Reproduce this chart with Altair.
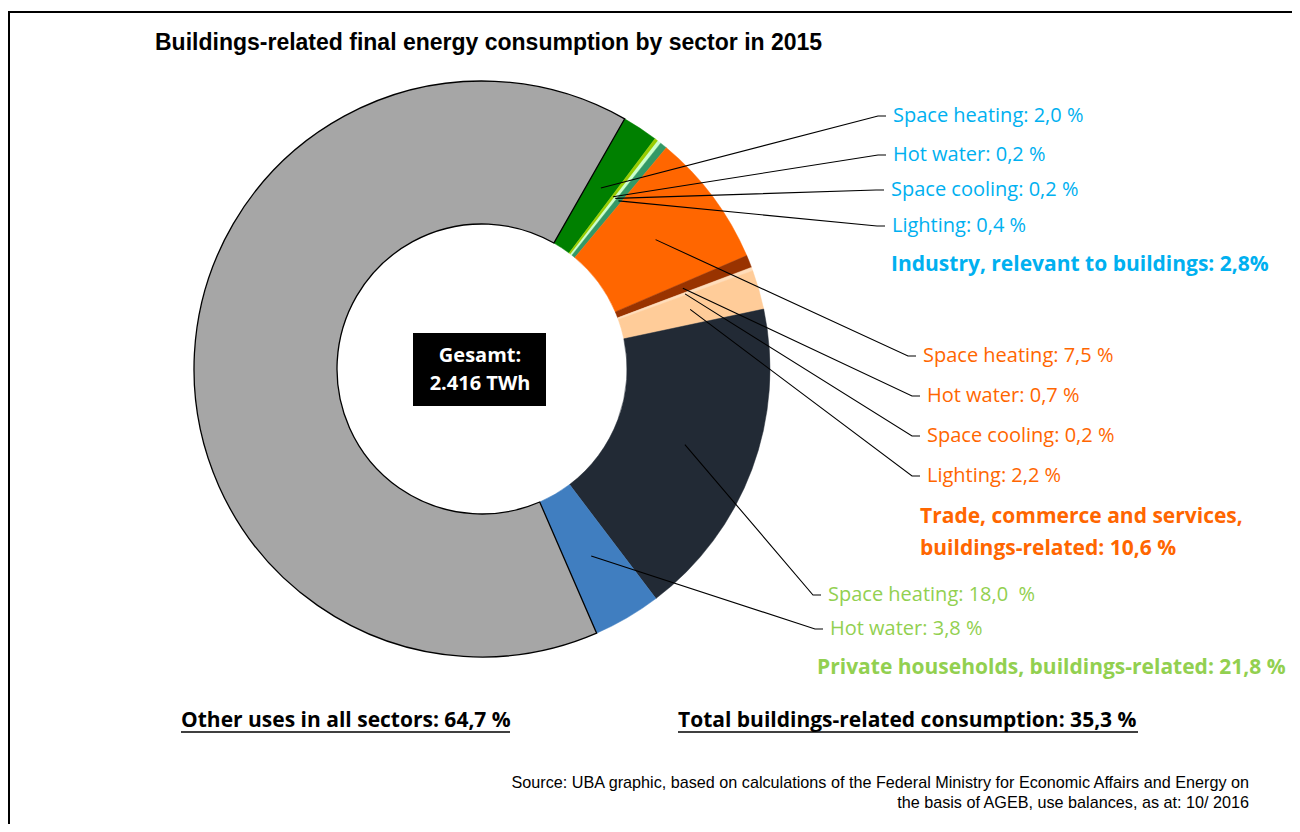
import math
import altair as alt
import pandas as pd

# ---------------- data ----------------
sectors = ["Industry"] * 4 + ["Trade"] * 4 + ["Households"] * 2 + ["Other"]
uses = ["Space heating", "Hot water", "Space cooling", "Lighting",
        "Space heating", "Hot water", "Space cooling", "Lighting",
        "Space heating", "Hot water", "Other uses"]
shares = [2.0, 0.2, 0.2, 0.4, 7.5, 0.7, 0.2, 2.2, 18.0, 3.8, 64.7]
slice_colors = ["#008000", "#99CC00", "#CCFFCC", "#339966",
                "#FF6600", "#993300", "#FFDDBB", "#FFCC99",
                "#222A35", "#407EC0", "#A6A6A6"]
use_labels = ["Space heating: 2,0 %", "Hot water: 0,2 %", "Space cooling: 0,2 %", "Lighting: 0,4 %",
              "Space heating: 7,5 %", "Hot water: 0,7 %", "Space cooling: 0,2 %", "Lighting: 2,2 %",
              "Space heating: 18,0\u00a0 %", "Hot water: 3,8 %"]
sector_colors = {"Industry": "#00B0F0", "Trade": "#FF6600", "Households": "#92D050"}
sector_labels = ["Industry, relevant to buildings: 2,8%", "Trade, commerce and services,",
                 "buildings-related: 10,6 %", "Private households, buildings-related: 21,8 %"]
sector_label_sector = ["Industry", "Trade", "Trade", "Households"]
total_labels = ["Other uses in all sectors: 64,7 %", "Total buildings-related consumption: 35,3 %"]
title_text = "Buildings-related final energy consumption by sector in 2015"
center_lines = ["Gesamt:", "2.416 TWh"]
source_lines = ["Source: UBA graphic, based on calculations of the Federal Ministry for Economic Affairs and Energy on",
                "the basis of AGEB, use balances, as at: 10/ 2016"]

# ---------------- layout (page pixels) ----------------
W, H = 1284, 816
CX, CY = 482, 369
R_OUT, R_IN = 288, 145
START_DEG = 29.7
label_x = [893, 893, 891, 892, 923, 927, 927, 927, 828, 830]
label_y = [116, 155, 190, 226, 356, 396, 436, 476, 595, 629]
sector_x = [891, 920, 920, 817]
sector_y = [265, 517, 549, 668]
total_x = [181, 678]
total_w = [329, 460]
total_y = 721
FONT = "Open Sans"

xs = alt.Scale(domain=[8, 8 + W], range=[0, W])
ys = alt.Scale(domain=[8, 8 + H], range=[0, H])
X = lambda f="x": alt.X(f"{f}:Q", scale=xs, axis=None)
Y = lambda f="y": alt.Y(f"{f}:Q", scale=ys, axis=None)

total = sum(shares)
a0 = math.radians(START_DEG)

pie = pd.DataFrame({
    "idx": list(range(len(shares))),
    "sector": sectors,
    "use": uses,
    "share": shares,
    "col": slice_colors,
    "stroke_col": ["#000000" if s == "Other" else c for s, c in zip(sectors, slice_colors)],
    "sw": [1.3 if s == "Other" else 0.5 for s in sectors],
})

arcs = alt.Chart(pie).mark_arc(radius=R_OUT, radius2=R_IN).encode(
    theta=alt.Theta("share:Q", stack=True,
                    scale=alt.Scale(domain=[0, total], range=[a0, a0 + 2 * math.pi])),
    color=alt.Color("col:N", scale=None),
    stroke=alt.Stroke("stroke_col:N", scale=None),
    strokeWidth=alt.StrokeWidth("sw:Q", scale=None),
    order=alt.Order("idx:Q"),
    x=alt.value(CX - 8),
    y=alt.value(CY - 8),
)

# leader lines from slice centroid to label
rm = (R_OUT + R_IN) / 2
rows = []
cum = 0.0
for i, v in enumerate(shares[:-1]):
    ang = a0 + (cum + v / 2) / total * 2 * math.pi
    cum += v
    sx, sy = CX + rm * math.sin(ang), CY - rm * math.cos(ang)
    ex = label_x[i] - 7
    rows += [
        {"id": i, "o": 0, "x": sx, "y": sy},
        {"id": i, "o": 1, "x": ex - 8, "y": label_y[i]},
        {"id": i, "o": 2, "x": ex, "y": label_y[i]},
    ]
leaders = alt.Chart(pd.DataFrame(rows)).mark_line(color="black", strokeWidth=1.1).encode(
    x=X(), y=Y(), detail="id:N", order="o:Q")

lab_df = pd.DataFrame({
    "text": use_labels, "x": label_x, "y": label_y,
    "c": [sector_colors[s] for s in sectors[:-1]],
})
labels = alt.Chart(lab_df).mark_text(align="left", baseline="middle", font=FONT, fontSize=20).encode(
    x=X(), y=Y(), text="text:N", color=alt.Color("c:N", scale=None))

sec_df = pd.DataFrame({
    "text": sector_labels, "x": sector_x, "y": sector_y,
    "c": [sector_colors[s] for s in sector_label_sector],
})
sec_labels = alt.Chart(sec_df).mark_text(align="left", baseline="middle", font=FONT, fontSize=21,
                                         fontWeight="bold").encode(
    x=X(), y=Y(), text="text:N", color=alt.Color("c:N", scale=None))

tot_df = pd.DataFrame({"text": total_labels, "x": total_x, "y": [total_y] * 2,
                       "x2": [a + b for a, b in zip(total_x, total_w)], "yu": [total_y + 11] * 2})
tot_labels = alt.Chart(tot_df).mark_text(align="left", baseline="middle", font=FONT, fontSize=21,
                                         fontWeight="bold", color="black").encode(
    x=X(), y=Y(), text="text:N")
underline = alt.Chart(tot_df).mark_rule(color="black", strokeWidth=1.5).encode(
    x=X(), x2="x2:Q", y=Y("yu"))

box_df = pd.DataFrame({"x": [413], "x2": [546], "y": [333], "y2": [406]})
box = alt.Chart(box_df).mark_rect(color="black").encode(x=X(), x2="x2:Q", y=Y(), y2="y2:Q")
center_df = pd.DataFrame({"text": center_lines, "x": [480, 480], "y": [356, 384]})
center_txt = alt.Chart(center_df).mark_text(align="center", baseline="middle", font=FONT, fontSize=20,
                                            fontWeight="bold", color="white").encode(
    x=X(), y=Y(), text="text:N")

title_df = pd.DataFrame({"text": [title_text], "x": [155], "y": [43]})
title = alt.Chart(title_df).mark_text(align="left", baseline="middle", font="Liberation Sans",
                                      fontSize=23, fontWeight="bold", color="black").encode(
    x=X(), y=Y(), text="text:N")

src_df = pd.DataFrame({"text": source_lines, "x": [1249, 1249], "y": [783, 803]})
source = alt.Chart(src_df).mark_text(align="right", baseline="middle", font="Liberation Sans",
                                     fontSize=16.2, color="black").encode(
    x=X(), y=Y(), text="text:N")

frame_df = pd.DataFrame({"x": [9, 8], "x2": [9, 8 + W], "y": [11, 12], "y2": [8 + H, 12]})
frame = alt.Chart(frame_df).mark_rule(color="black", strokeWidth=2).encode(
    x=X(), x2="x2:Q", y=Y(), y2="y2:Q")

chart = alt.layer(
    frame, arcs, leaders, labels, sec_labels, tot_labels, underline, box, center_txt, title, source
).properties(
    width=W, height=H, autosize=alt.AutoSizeParams(type="none"), padding=0
).configure_view(stroke=None)

chart.save("out.html", embed_options={"renderer": "svg", "actions": False})
